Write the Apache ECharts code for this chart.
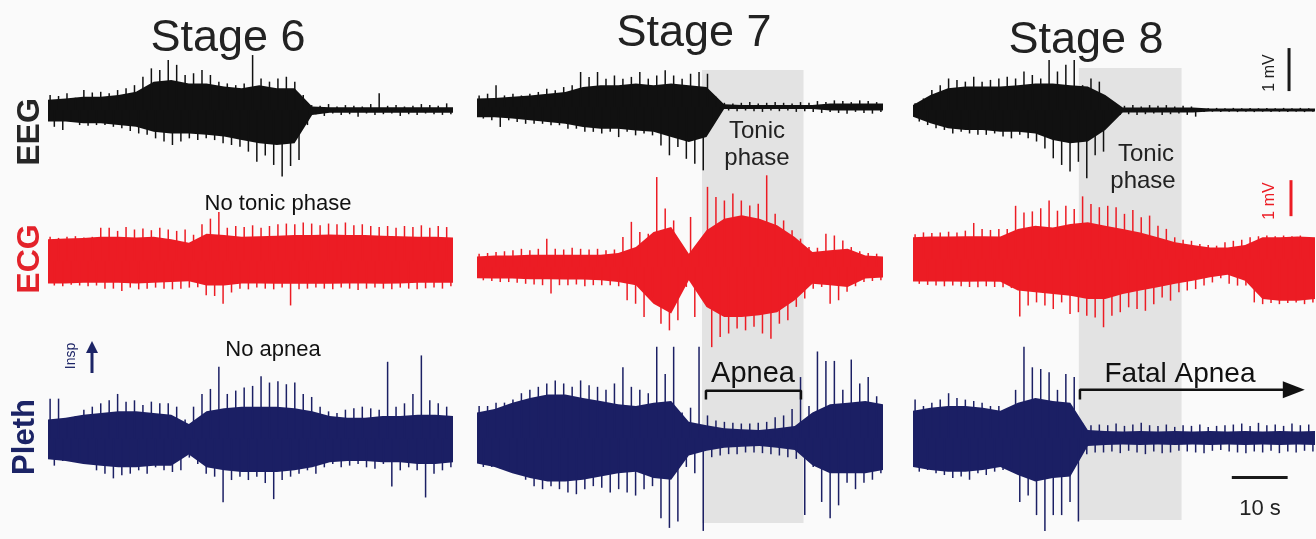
<!DOCTYPE html>
<html><head><meta charset="utf-8">
<script src="https://cdn.jsdelivr.net/npm/echarts@6/dist/echarts.min.js"></script>
<style>html,body{margin:0;padding:0;background:#fafafa}#c{width:1316px;height:539px}</style>
</head><body><div id="c"></div><script>
// ---------------- DATA ----------------
// Time span of every panel, seconds
const SPAN = 72;
const stageTitles = ['Stage 6', 'Stage 7', 'Stage 8'];
const rowLabels = ['EEG', 'ECG', 'Pleth'];
// Tonic phase windows (s), stage 7 and stage 8
const tonicStage7 = [39.9, 57.9];
const tonicStage8 = [29.7, 48.1];
// Apnea bracket (s), fatal apnea start / arrow end (s)
const apneaStage7 = [40.6, 57.45];
const fatalApneaStage8 = [29.9, 66.6];

// Trace envelopes: spike tips per 1.5 s bin (hi/lo), dense core per 3 s bin.
// Units: readings in divisions (35 px per division in the reference).
const eeg6Hi = [0.43,0.40,0.48,0.35,0.57,0.50,0.52,0.48,0.57,0.62,0.71,0.95,1.19,1.14,1.43,1.29,1.00,1.05,1.14,1.00,0.81,0.76,0.71,0.76,1.57,0.90,0.81,0.90,0.95,0.81,0.43,0.14,0.12,0.17,0.10,0.14,0.12,0.10,0.17,0.48,0.12,0.14,0.10,0.12,0.17,0.14,0.12,0.19];
const eeg6Lo = [-0.48,-0.57,-0.33,-0.43,-0.45,-0.43,-0.43,-0.48,-0.52,-0.60,-0.67,-0.71,-0.81,-0.90,-1.00,-0.90,-0.81,-0.86,-0.81,-0.86,-0.95,-1.00,-1.05,-1.19,-1.48,-1.30,-1.57,-1.90,-1.60,-1.43,-0.43,-0.12,-0.17,-0.10,-0.14,-0.12,-0.19,-0.10,-0.14,-0.12,-0.10,-0.17,-0.12,-0.14,-0.10,-0.12,-0.14,-0.12];
const eeg6CoreHi = [0.29,0.33,0.38,0.38,0.43,0.52,0.81,0.86,0.76,0.76,0.67,0.62,0.71,0.62,0.62,0.10,0.08,0.08,0.08,0.08,0.08,0.08,0.08,0.08];
const eeg6CoreLo = [-0.33,-0.33,-0.38,-0.38,-0.43,-0.48,-0.62,-0.67,-0.67,-0.71,-0.76,-0.86,-0.95,-1.00,-0.95,-0.14,-0.08,-0.08,-0.08,-0.08,-0.08,-0.08,-0.08,-0.08];

const eeg7Hi = [0.33,0.38,0.62,0.33,0.38,0.33,0.38,0.43,0.52,0.48,0.57,0.62,1.00,0.86,1.00,0.81,0.90,0.81,0.86,1.00,0.81,0.90,1.05,0.90,0.81,0.95,1.00,0.95,0.29,0.12,0.10,0.12,0.14,0.10,0.12,0.14,0.12,0.10,0.14,0.12,0.17,0.14,0.19,0.17,0.14,0.19,0.17,0.14];
const eeg7Lo = [-0.33,-0.38,-0.57,-0.38,-0.43,-0.48,-0.48,-0.48,-0.52,-0.52,-0.62,-0.62,-0.71,-0.71,-0.76,-0.71,-0.86,-0.71,-0.81,-0.76,-0.81,-1.10,-1.38,-1.14,-1.48,-1.62,-1.81,-0.52,-0.10,-0.10,-0.12,-0.10,-0.12,-0.14,-0.10,-0.12,-0.10,-0.14,-0.12,-0.14,-0.17,-0.14,-0.17,-0.19,-0.14,-0.17,-0.19,-0.14];
const eeg7CoreHi = [0.24,0.26,0.29,0.33,0.38,0.43,0.57,0.62,0.62,0.67,0.62,0.67,0.62,0.57,0.08,0.06,0.06,0.06,0.06,0.06,0.10,0.10,0.10,0.10];
const eeg7CoreLo = [-0.29,-0.29,-0.33,-0.38,-0.43,-0.48,-0.57,-0.62,-0.62,-0.67,-0.71,-0.86,-1.00,-0.86,-0.06,-0.06,-0.06,-0.06,-0.06,-0.06,-0.10,-0.10,-0.10,-0.10];

const eeg8Hi = [0.19,0.33,0.57,0.71,0.90,0.86,0.81,0.95,0.81,0.86,0.90,0.95,0.90,1.10,1.00,0.90,1.43,1.10,1.29,1.43,0.71,0.90,0.81,0.19,0.14,0.12,0.14,0.10,0.14,0.12,0.14,0.10,0.12,0.10,0.06,0.05,0.06,0.05,0.06,0.05,0.06,0.05,0.06,0.05,0.06,0.05,0.06,0.05];
const eeg8Lo = [-0.33,-0.43,-0.52,-0.57,-0.67,-0.62,-0.67,-0.71,-0.71,-0.67,-0.76,-0.81,-0.71,-0.81,-0.90,-1.10,-1.38,-1.57,-1.76,-1.48,-1.95,-1.29,-1.19,-0.19,-0.14,-0.12,-0.14,-0.12,-0.10,-0.14,-0.12,-0.10,-0.14,-0.19,-0.06,-0.05,-0.06,-0.05,-0.06,-0.05,-0.06,-0.05,-0.06,-0.05,-0.06,-0.05,-0.06,-0.05];
const eeg8CoreHi = [0.14,0.43,0.62,0.67,0.67,0.67,0.71,0.76,0.76,0.71,0.67,0.43,0.07,0.07,0.07,0.07,0.07,0.04,0.04,0.04,0.04,0.04,0.04,0.04];
const eeg8CoreLo = [-0.19,-0.38,-0.52,-0.57,-0.57,-0.62,-0.62,-0.67,-0.86,-0.95,-0.90,-0.57,-0.07,-0.07,-0.07,-0.07,-0.07,-0.04,-0.04,-0.04,-0.04,-0.04,-0.04,-0.04];

const ecg6Hi = [0.69,0.66,0.69,0.71,0.67,0.69,0.95,0.95,0.86,0.97,0.90,0.93,0.88,0.95,0.90,0.86,0.90,0.75,1.05,1.21,1.40,0.95,1.00,0.97,1.02,0.95,1.00,1.05,1.07,1.05,1.10,1.07,1.02,1.07,1.05,1.10,1.02,1.05,1.00,0.97,1.00,0.95,1.00,0.97,1.02,0.95,1.00,0.97];
const ecg6Lo = [-0.70,-0.72,-0.68,-0.70,-0.72,-0.70,-0.79,-0.79,-0.86,-0.76,-0.81,-0.79,-0.76,-0.79,-0.81,-0.79,-0.76,-0.75,-0.98,-1.00,-1.22,-0.90,-0.79,-0.81,-0.76,-0.79,-0.81,-0.76,-1.27,-0.81,-0.79,-0.76,-0.79,-0.81,-0.76,-0.79,-0.83,-0.79,-0.76,-0.79,-0.81,-0.76,-0.79,-0.81,-0.78,-0.76,-0.79,-0.72];
const ecg6CoreHi = [0.62,0.64,0.66,0.69,0.69,0.67,0.69,0.62,0.52,0.78,0.74,0.69,0.71,0.72,0.74,0.74,0.76,0.74,0.74,0.72,0.71,0.69,0.69,0.67];
const ecg6CoreLo = [-0.64,-0.64,-0.62,-0.62,-0.62,-0.64,-0.62,-0.60,-0.58,-0.70,-0.70,-0.64,-0.64,-0.65,-0.65,-0.65,-0.65,-0.64,-0.64,-0.65,-0.64,-0.62,-0.62,-0.62];

const ecg7Hi = [0.38,0.40,0.43,0.45,0.48,0.52,0.48,0.52,0.81,0.52,0.50,0.55,0.52,0.50,0.52,0.48,0.50,0.86,1.29,1.00,0.95,2.57,1.67,1.33,0.57,1.43,0.71,2.29,2.00,1.90,2.10,1.90,1.76,1.81,2.62,1.52,1.33,1.05,0.81,0.57,0.55,0.95,0.90,0.76,0.57,0.45,0.40,0.38];
const ecg7Lo = [-0.38,-0.40,-0.43,-0.43,-0.45,-0.48,-0.50,-0.52,-0.76,-0.52,-0.52,-0.50,-0.55,-0.52,-0.52,-0.52,-0.55,-0.95,-1.05,-1.43,-0.86,-1.62,-1.81,-1.52,-0.57,-1.43,-0.62,-2.29,-2.00,-1.90,-1.76,-1.81,-1.71,-1.90,-2.05,-1.62,-1.52,-1.14,-0.90,-0.62,-0.57,-1.05,-0.95,-0.71,-0.55,-0.43,-0.40,-0.38];
const ecg7CoreHi = [0.30,0.33,0.33,0.35,0.35,0.35,0.35,0.35,0.40,0.57,1.00,1.14,0.38,1.05,1.38,1.48,1.38,1.19,0.86,0.43,0.48,0.52,0.33,0.30];
const ecg7CoreLo = [-0.32,-0.33,-0.33,-0.35,-0.35,-0.36,-0.36,-0.38,-0.43,-0.52,-1.05,-1.33,-0.38,-1.14,-1.43,-1.43,-1.38,-1.29,-0.95,-0.48,-0.52,-0.57,-0.33,-0.30];

const ecg8Hi = [0.71,0.76,0.74,0.76,0.78,0.76,0.81,1.03,0.86,0.83,0.86,0.86,1.52,1.33,1.36,1.45,1.67,1.38,1.52,1.43,1.79,1.57,1.48,1.52,1.48,1.29,1.40,1.19,1.24,0.95,0.86,0.62,0.55,0.52,0.43,0.40,0.38,0.48,0.52,0.55,0.62,0.65,0.67,0.65,0.67,0.65,0.67,0.62];
const ecg8Lo = [-0.71,-0.74,-0.76,-0.78,-0.76,-0.78,-0.80,-0.81,-0.78,-0.80,-0.81,-0.83,-1.64,-1.33,-1.24,-1.33,-1.43,-1.24,-1.57,-1.52,-1.62,-1.67,-1.95,-1.62,-1.52,-1.38,-1.43,-1.48,-1.29,-1.10,-1.19,-0.95,-0.90,-0.86,-0.76,-0.67,-0.55,-0.71,-0.76,-0.76,-1.24,-1.29,-1.26,-1.29,-1.26,-1.24,-1.29,-1.24];
const ecg8CoreHi = [0.62,0.64,0.64,0.65,0.65,0.64,0.86,0.95,0.90,1.00,1.05,0.95,0.86,0.76,0.62,0.48,0.40,0.33,0.33,0.40,0.62,0.62,0.64,0.62];
const ecg8CoreLo = [-0.64,-0.64,-0.64,-0.65,-0.64,-0.65,-0.90,-0.95,-1.00,-1.05,-1.14,-1.14,-1.00,-0.90,-0.81,-0.71,-0.62,-0.52,-0.45,-0.62,-1.14,-1.19,-1.19,-1.14];

const pleth6Hi = [1.19,1.19,0.52,0.67,0.86,0.95,1.05,1.14,1.33,1.10,1.14,1.00,1.10,1.05,1.05,0.95,0.57,0.95,1.33,1.48,2.14,1.33,1.43,1.52,1.57,1.86,1.67,1.71,1.62,1.67,1.33,1.24,0.95,0.81,0.76,0.86,0.90,0.95,0.90,0.86,2.29,0.95,1.05,1.33,2.48,1.14,1.05,0.95];
const pleth6Lo = [-0.81,-0.67,-0.57,-0.67,-0.76,-0.95,-1.05,-1.19,-1.10,-1.05,-0.95,-1.05,-0.86,-0.95,-1.00,-0.95,-0.57,-0.76,-1.05,-1.14,-1.90,-1.24,-1.14,-1.24,-1.14,-1.33,-1.81,-1.24,-1.14,-1.05,-0.95,-1.05,-0.86,-0.76,-0.86,-0.81,-0.76,-0.86,-0.90,-0.76,-1.43,-0.95,-0.86,-0.95,-1.76,-1.05,-0.95,-0.86];
const pleth6CoreHi = [0.57,0.62,0.71,0.76,0.81,0.81,0.76,0.71,0.43,0.81,0.90,0.95,0.95,0.95,0.90,0.81,0.67,0.62,0.62,0.67,0.67,0.71,0.71,0.67];
const pleth6CoreLo = [-0.62,-0.67,-0.76,-0.81,-0.86,-0.86,-0.81,-0.81,-0.48,-0.86,-0.95,-1.00,-1.00,-1.00,-0.95,-0.86,-0.71,-0.67,-0.67,-0.71,-0.71,-0.76,-0.76,-0.71];

const pleth7Hi = [0.95,0.95,1.05,1.05,1.14,1.33,1.43,1.52,1.62,1.71,1.62,1.52,1.71,1.57,1.52,1.43,1.62,2.10,1.52,1.43,1.33,2.71,1.90,2.71,0.76,0.90,2.71,0.67,0.52,0.48,0.45,0.43,0.43,0.45,0.48,0.62,0.67,0.86,1.81,0.95,2.57,2.29,2.29,1.43,2.33,1.62,1.81,1.24];
const pleth7Lo = [-0.86,-0.86,-0.90,-0.95,-1.05,-1.24,-1.43,-1.52,-1.43,-1.52,-1.62,-1.67,-1.52,-1.43,-1.48,-1.62,-1.52,-1.62,-1.71,-1.52,-1.43,-2.38,-2.67,-2.48,-0.86,-1.05,-2.76,-0.57,-0.52,-0.48,-0.48,-0.43,-0.43,-0.45,-0.48,-0.52,-0.57,-0.62,-2.29,-0.86,-1.90,-2.38,-2.00,-1.33,-1.52,-1.33,-1.24,-1.05];
const pleth7CoreHi = [0.76,0.86,1.05,1.19,1.29,1.29,1.19,1.10,1.00,0.95,1.05,1.10,0.48,0.38,0.29,0.26,0.24,0.29,0.36,0.76,1.00,1.05,1.10,1.00];
const pleth7CoreLo = [-0.76,-0.86,-1.05,-1.19,-1.29,-1.29,-1.24,-1.14,-1.05,-1.00,-1.19,-1.24,-0.52,-0.38,-0.29,-0.26,-0.24,-0.29,-0.36,-0.81,-1.05,-1.05,-1.05,-0.95];

const pleth8Hi = [1.14,0.95,1.05,1.14,1.33,1.19,1.14,1.10,1.05,0.95,0.95,0.86,1.43,2.71,2.10,2.05,1.95,1.43,1.90,1.81,0.43,0.38,0.40,0.38,0.43,0.36,0.40,0.45,0.38,0.36,0.40,0.33,0.38,0.36,0.40,0.33,0.36,0.38,0.40,0.43,0.36,0.45,0.38,0.40,0.36,0.43,0.38,0.40];
const pleth8Lo = [-1.00,-0.95,-1.05,-1.10,-1.19,-1.14,-1.24,-1.05,-1.10,-1.00,-0.95,-0.90,-1.90,-1.71,-2.29,-2.76,-2.29,-2.29,-1.90,-2.48,-0.48,-0.43,-0.43,-0.40,-0.45,-0.38,-0.43,-0.48,-0.40,-0.45,-0.43,-0.38,-0.40,-0.43,-0.45,-0.38,-0.36,-0.40,-0.43,-0.45,-0.40,-0.43,-0.38,-0.45,-0.40,-0.43,-0.38,-0.40];
const pleth8CoreHi = [0.81,0.90,0.95,0.95,0.90,0.81,1.05,1.19,1.10,1.05,0.24,0.21,0.19,0.21,0.19,0.21,0.19,0.21,0.19,0.21,0.19,0.21,0.19,0.21];
const pleth8CoreLo = [-0.86,-0.95,-1.00,-1.00,-0.95,-0.86,-1.10,-1.29,-1.19,-1.14,-0.24,-0.21,-0.19,-0.21,-0.19,-0.21,-0.19,-0.21,-0.19,-0.21,-0.19,-0.21,-0.19,-0.21];

// ---------------- LAYOUT / STYLE ----------------
const FONT = '"Liberation Sans", Arial, Helvetica, sans-serif';
const STAGE_LEFT = [48, 477, 913];
const STAGE_WIDTH = [405, 406, 402];
const ROW_CENTER = [[110, 107, 110], [261, 267, 259], [443, 442, 442]];
const ROW_PX_PER_MV = [43, 36, 35];   // calibration from the scale bars
const READ_PX = 35;                   // px per reading division
const HALF_H = 105;
const COLORS = ['#111111', '#ec1c24', '#1b1f64'];
const LABEL_COLORS = ['#262626', '#e3222a', '#1c2466'];

const traces = [
  [[eeg6Hi, eeg6Lo, eeg6CoreHi, eeg6CoreLo], [eeg7Hi, eeg7Lo, eeg7CoreHi, eeg7CoreLo], [eeg8Hi, eeg8Lo, eeg8CoreHi, eeg8CoreLo]],
  [[ecg6Hi, ecg6Lo, ecg6CoreHi, ecg6CoreLo], [ecg7Hi, ecg7Lo, ecg7CoreHi, ecg7CoreLo], [ecg8Hi, ecg8Lo, ecg8CoreHi, ecg8CoreLo]],
  [[pleth6Hi, pleth6Lo, pleth6CoreHi, pleth6CoreLo], [pleth7Hi, pleth7Lo, pleth7CoreHi, pleth7CoreLo], [pleth8Hi, pleth8Lo, pleth8CoreHi, pleth8CoreLo]]
];

const grids = [], xAxes = [], yAxes = [], series = [];
function addGrid(left, width, top, height, ymin, ymax) {
  const i = grids.length;
  grids.push({ left, width, top, height });
  xAxes.push({ type: 'value', gridIndex: i, min: 0, max: SPAN, show: false });
  yAxes.push({ type: 'value', gridIndex: i, min: ymin, max: ymax, show: false });
  return i;
}

// Tonic-phase shading (background grids spanning all three rows)
[[1, tonicStage7, 70, 453], [2, tonicStage8, 68, 452]].forEach(([s, win, top, h]) => {
  const g = addGrid(STAGE_LEFT[s], STAGE_WIDTH[s], top, h, 0, 1);
  series.push({
    type: 'line', xAxisIndex: g, yAxisIndex: g, data: [[0, 0.5]], showSymbol: false,
    lineStyle: { opacity: 0 }, silent: true, z: 0, animation: false,
    markArea: { silent: true, itemStyle: { color: '#e3e3e3' }, data: [[{ xAxis: win[0] }, { xAxis: win[1] }]] }
  });
});

const gridIdx = [[], [], []];
for (let r = 0; r < 3; r++) {
  for (let s = 0; s < 3; s++) {
    const lim = HALF_H / ROW_PX_PER_MV[r];
    const g = addGrid(STAGE_LEFT[s], STAGE_WIDTH[s], ROW_CENTER[r][s] - HALF_H, 2 * HALF_H, -lim, lim);
    gridIdx[r][s] = g;
    const cal = READ_PX / ROW_PX_PER_MV[r];
    const [hi, lo, cHi, cLo] = traces[r][s];
    const color = COLORS[r];
    // dense core band
    series.push({
      type: 'custom', xAxisIndex: g, yAxisIndex: g, data: [[0, 0]], silent: true, z: 2, animation: false, clip: false,
      renderItem: (params, api) => {
        const n = cHi.length, pts = [];
        for (let j = 0; j < n; j++) pts.push(api.coord([j * SPAN / (n - 1), cHi[j] * cal]));
        for (let j = n - 1; j >= 0; j--) pts.push(api.coord([j * SPAN / (n - 1), cLo[j] * cal]));
        return { type: 'polygon', shape: { points: pts }, style: { fill: color } };
      }
    });
    // spikes: one upward and one downward deflection per bin
    const dt = SPAN / hi.length;
    const spikes = [];
    for (let i = 0; i < hi.length; i++) {
      spikes.push([(i + 0.25) * dt, hi[i] * cal]);
      spikes.push([(i + 0.75) * dt, lo[i] * cal]);
    }
    series.push({
      type: 'custom', xAxisIndex: g, yAxisIndex: g, data: spikes, silent: true, z: 3, animation: false, clip: false,
      renderItem: (params, api) => {
        const t = api.value(0), v = api.value(1);
        const a = api.coord([t, 0]), b = api.coord([t, v]);
        return { type: 'line', shape: { x1: a[0], y1: a[1], x2: b[0], y2: b[1] }, style: { stroke: color, lineWidth: 1.5 } };
      }
    });
  }
}

// Scale bars (drawn in data units through the axes)
const scaleBars = [
  { g: gridIdx[0][2], data: [[67.35, 0.44], [67.35, 1.44]], color: '#1a1a1a' },    // 1 mV EEG
  { g: gridIdx[1][2], data: [[67.7, 1.19], [67.7, 2.19]], color: '#ec1c24' },       // 1 mV ECG
  { g: gridIdx[2][2], data: [[57.1, -1.17], [67.1, -1.17]], color: '#1a1a1a' }      // 10 s
];
scaleBars.forEach(b => series.push({
  type: 'line', xAxisIndex: b.g, yAxisIndex: b.g, data: b.data, showSymbol: false, silent: true,
  lineStyle: { color: b.color, width: 3, cap: 'butt' }, z: 5, animation: false, clip: false
}));
// Apnea bracket (stage 7)
series.push({
  type: 'line', xAxisIndex: gridIdx[2][1], yAxisIndex: gridIdx[2][1], showSymbol: false, silent: true, z: 5, animation: false, clip: false,
  data: [[apneaStage7[0], 1.14], [apneaStage7[0], 1.40], [apneaStage7[1], 1.40], [apneaStage7[1], 1.14]],
  lineStyle: { color: '#111', width: 2.5 }
});
// Fatal apnea arrow (stage 8)
series.push({
  type: 'line', xAxisIndex: gridIdx[2][2], yAxisIndex: gridIdx[2][2], showSymbol: false, silent: true, z: 5, animation: false, clip: false,
  data: [[fatalApneaStage8[0], 1.14], [fatalApneaStage8[0], 1.43], [fatalApneaStage8[1], 1.43]],
  lineStyle: { color: '#111', width: 2.5 }
});
series.push({
  type: 'scatter', xAxisIndex: gridIdx[2][2], yAxisIndex: gridIdx[2][2], silent: true, z: 5, animation: false, clip: false,
  data: [[68.2, 1.43]], symbol: 'triangle', symbolRotate: -90, symbolSize: [17, 22], itemStyle: { color: '#111', opacity: 1 }
});

// ---------------- TEXT ----------------
function txt(text, x, y, size, color, opts) {
  opts = opts || {};
  return {
    type: 'text', x, y, rotation: opts.rot || 0, z: 10, silent: true,
    style: { text, fill: color, font: (opts.bold ? 'bold ' : '') + size + 'px ' + FONT, align: 'center', verticalAlign: 'middle' }
  };
}
const graphic = [
  txt(stageTitles[0], 228, 39, 45, '#222'),
  txt(stageTitles[1], 694, 34, 45, '#222'),
  txt(stageTitles[2], 1086, 41, 45, '#222'),
  txt(rowLabels[0], 30, 132, 32, LABEL_COLORS[0], { bold: true, rot: Math.PI / 2 }),
  txt(rowLabels[1], 30, 259, 32, LABEL_COLORS[1], { bold: true, rot: Math.PI / 2 }),
  txt(rowLabels[2], 25, 437, 31, LABEL_COLORS[2], { bold: true, rot: Math.PI / 2 }),
  txt('Insp', 71, 356, 14, LABEL_COLORS[2], { rot: Math.PI / 2 }),
  txt('No tonic phase', 278, 204, 22, '#111'),
  txt('No apnea', 273, 350, 22, '#111'),
  txt('Tonic', 757, 131, 24, '#222'),
  txt('phase', 757, 158, 24, '#222'),
  txt('Tonic', 1146, 154, 24, '#222'),
  txt('phase', 1143, 181, 24, '#222'),
  txt('Apnea', 753, 374, 29, '#111'),
  txt('Fatal Apnea', 1180, 374, 28, '#111'),
  txt('1 mV', 1270, 73, 16, '#222', { rot: Math.PI / 2 }),
  txt('1 mV', 1270, 201, 16, '#ec1c24', { rot: Math.PI / 2 }),
  txt('10 s', 1260, 509, 22, '#222'),
  { type: 'line', z: 10, silent: true, shape: { x1: 92, y1: 373, x2: 92, y2: 350 }, style: { stroke: LABEL_COLORS[2], lineWidth: 3 } },
  { type: 'polygon', z: 10, silent: true, shape: { points: [[86, 353], [98, 353], [92, 341]] }, style: { fill: LABEL_COLORS[2] } }
];

const chart = echarts.init(document.getElementById('c'), null, { renderer: 'canvas' });
chart.setOption({
  backgroundColor: '#fafafa',
  animation: false,
  grid: grids, xAxis: xAxes, yAxis: yAxes, series, graphic
});
</script></body></html>
